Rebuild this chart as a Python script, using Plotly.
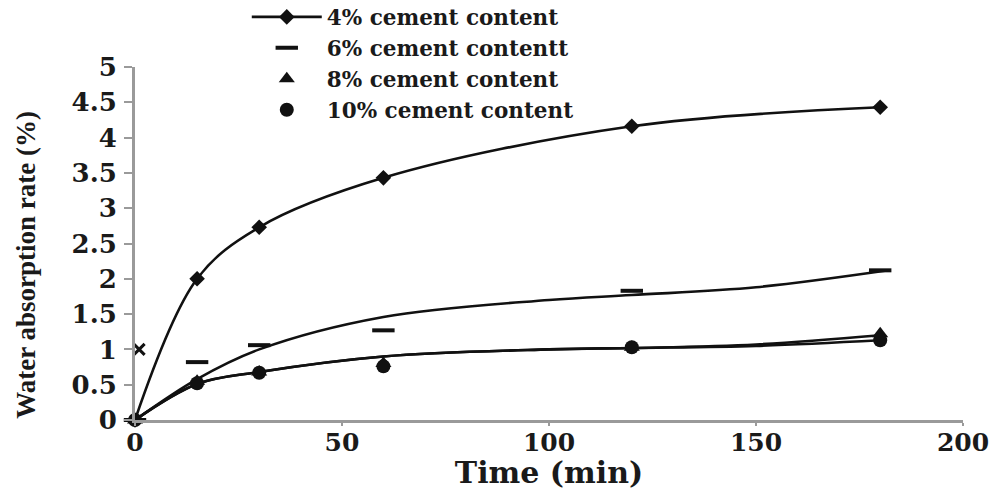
import plotly.graph_objects as go

# ---- data ----
time_pts = [0, 15, 30, 60, 120, 180]
c4 = [0, 2.00, 2.73, 3.43, 4.16, 4.43]
c6 = [0, 0.82, 1.06, 1.27, 1.83, 2.12]
c8 = [0, 0.55, 0.68, 0.80, 1.03, 1.22]
c10 = [0, 0.52, 0.67, 0.76, 1.03, 1.13]

# fitted trend curves drawn in the reference
fit_time = [0, 15, 30, 60, 100, 120, 150, 182]
fit6 = [0, 0.58, 1.00, 1.46, 1.70, 1.77, 1.88, 2.12]
fit_time_low = [0, 15, 30, 60, 100, 120, 150, 180]
fit8 = [0, 0.51, 0.68, 0.90, 1.00, 1.02, 1.07, 1.20]
fit10 = [0, 0.51, 0.68, 0.90, 1.00, 1.02, 1.05, 1.13]

stray_x = [1]
stray_y = [1.0]

names = ["4% cement content", "6% cement contentt", "8% cement content", "10% cement content"]
x_ticks = [0, 50, 100, 150, 200]
y_ticks = [0, 0.5, 1, 1.5, 2, 2.5, 3, 3.5, 4, 4.5, 5]
y_tick_text = ["0", "0.5", "1", "1.5", "2", "2.5", "3", "3.5", "4", "4.5", "5"]
x_title = "Time (min)"
y_title = "Water absorption rate (%)"

BLACK = "#111111"
AX = "#9a9a9a"
TXT = "#1a1a1a"

fig = go.Figure()

# fitted lines (no legend)
for xs, ys in [(fit_time, fit6), (fit_time_low, fit8), (fit_time_low, fit10)]:
    fig.add_trace(go.Scatter(x=xs, y=ys, mode="lines", showlegend=False,
                             line=dict(color=BLACK, width=2.6, shape="spline", smoothing=1.0),
                             cliponaxis=False, hoverinfo="skip"))

fig.add_trace(go.Scatter(x=time_pts, y=c4, mode="lines+markers", name=names[0],
                         line=dict(color=BLACK, width=2.6, shape="spline", smoothing=1.0),
                         marker=dict(symbol="diamond", size=12, color=BLACK),
                         cliponaxis=False))
fig.add_trace(go.Scatter(x=time_pts, y=c6, mode="markers", name=names[1],
                         marker=dict(symbol="line-ew", size=16, color=BLACK,
                                     line=dict(color=BLACK, width=4)),
                         cliponaxis=False))
fig.add_trace(go.Scatter(x=time_pts, y=c8, mode="markers", name=names[2],
                         marker=dict(symbol="triangle-up", size=14, color=BLACK),
                         cliponaxis=False))
fig.add_trace(go.Scatter(x=time_pts, y=c10, mode="markers", name=names[3],
                         marker=dict(symbol="circle", size=14, color=BLACK),
                         cliponaxis=False))
fig.add_trace(go.Scatter(x=stray_x, y=stray_y, mode="markers", showlegend=False,
                         marker=dict(symbol="x-thin", size=11, color=BLACK,
                                     line=dict(color=BLACK, width=3)),
                         cliponaxis=False, hoverinfo="skip"))

fig.update_layout(
    width=995, height=490,
    margin=dict(l=135, r=32, t=67, b=70, autoexpand=False),
    paper_bgcolor="white", plot_bgcolor="white",
    font=dict(family="DejaVu Serif", color=TXT),
    legend=dict(x=0.135, y=1.20, xanchor="left", yanchor="top",
                font=dict(family="DejaVu Serif", size=21.5, color=TXT, weight="bold"),
                bgcolor="rgba(0,0,0,0)", itemwidth=70, tracegroupgap=0),
    xaxis=dict(range=[0, 200], tickvals=x_ticks, showgrid=False, zeroline=False,
               showline=True, linecolor=AX, linewidth=3,
               ticks="outside", ticklen=3, tickwidth=2, tickcolor=AX,
               ticklabelstandoff=-5,
               tickfont=dict(family="DejaVu Serif", size=25, color=TXT, weight="bold"),
               title=dict(text=x_title, standoff=0,
                          font=dict(family="DejaVu Serif", size=30, color=TXT, weight="bold")),
               automargin=False),
    yaxis=dict(range=[0, 5], tickvals=y_ticks, ticktext=y_tick_text, showgrid=False, zeroline=False,
               showline=True, linecolor=AX, linewidth=3,
               ticks="outside", ticklen=8, tickwidth=2, tickcolor=AX,
               ticklabelstandoff=2,
               tickfont=dict(family="DejaVu Serif", size=26, color=TXT, weight="bold"),
               automargin=False),
    annotations=[dict(text=y_title, xref="paper", yref="paper", x=-0.132, y=0.439,
                      xanchor="center", yanchor="middle", textangle=-90, showarrow=False,
                      font=dict(family="Liberation Serif", size=27, color=TXT, weight="bold"))],
)

fig.write_html("out.html", config={"displayModeBar": False},
               post_script="document.body.style.margin='0';")
